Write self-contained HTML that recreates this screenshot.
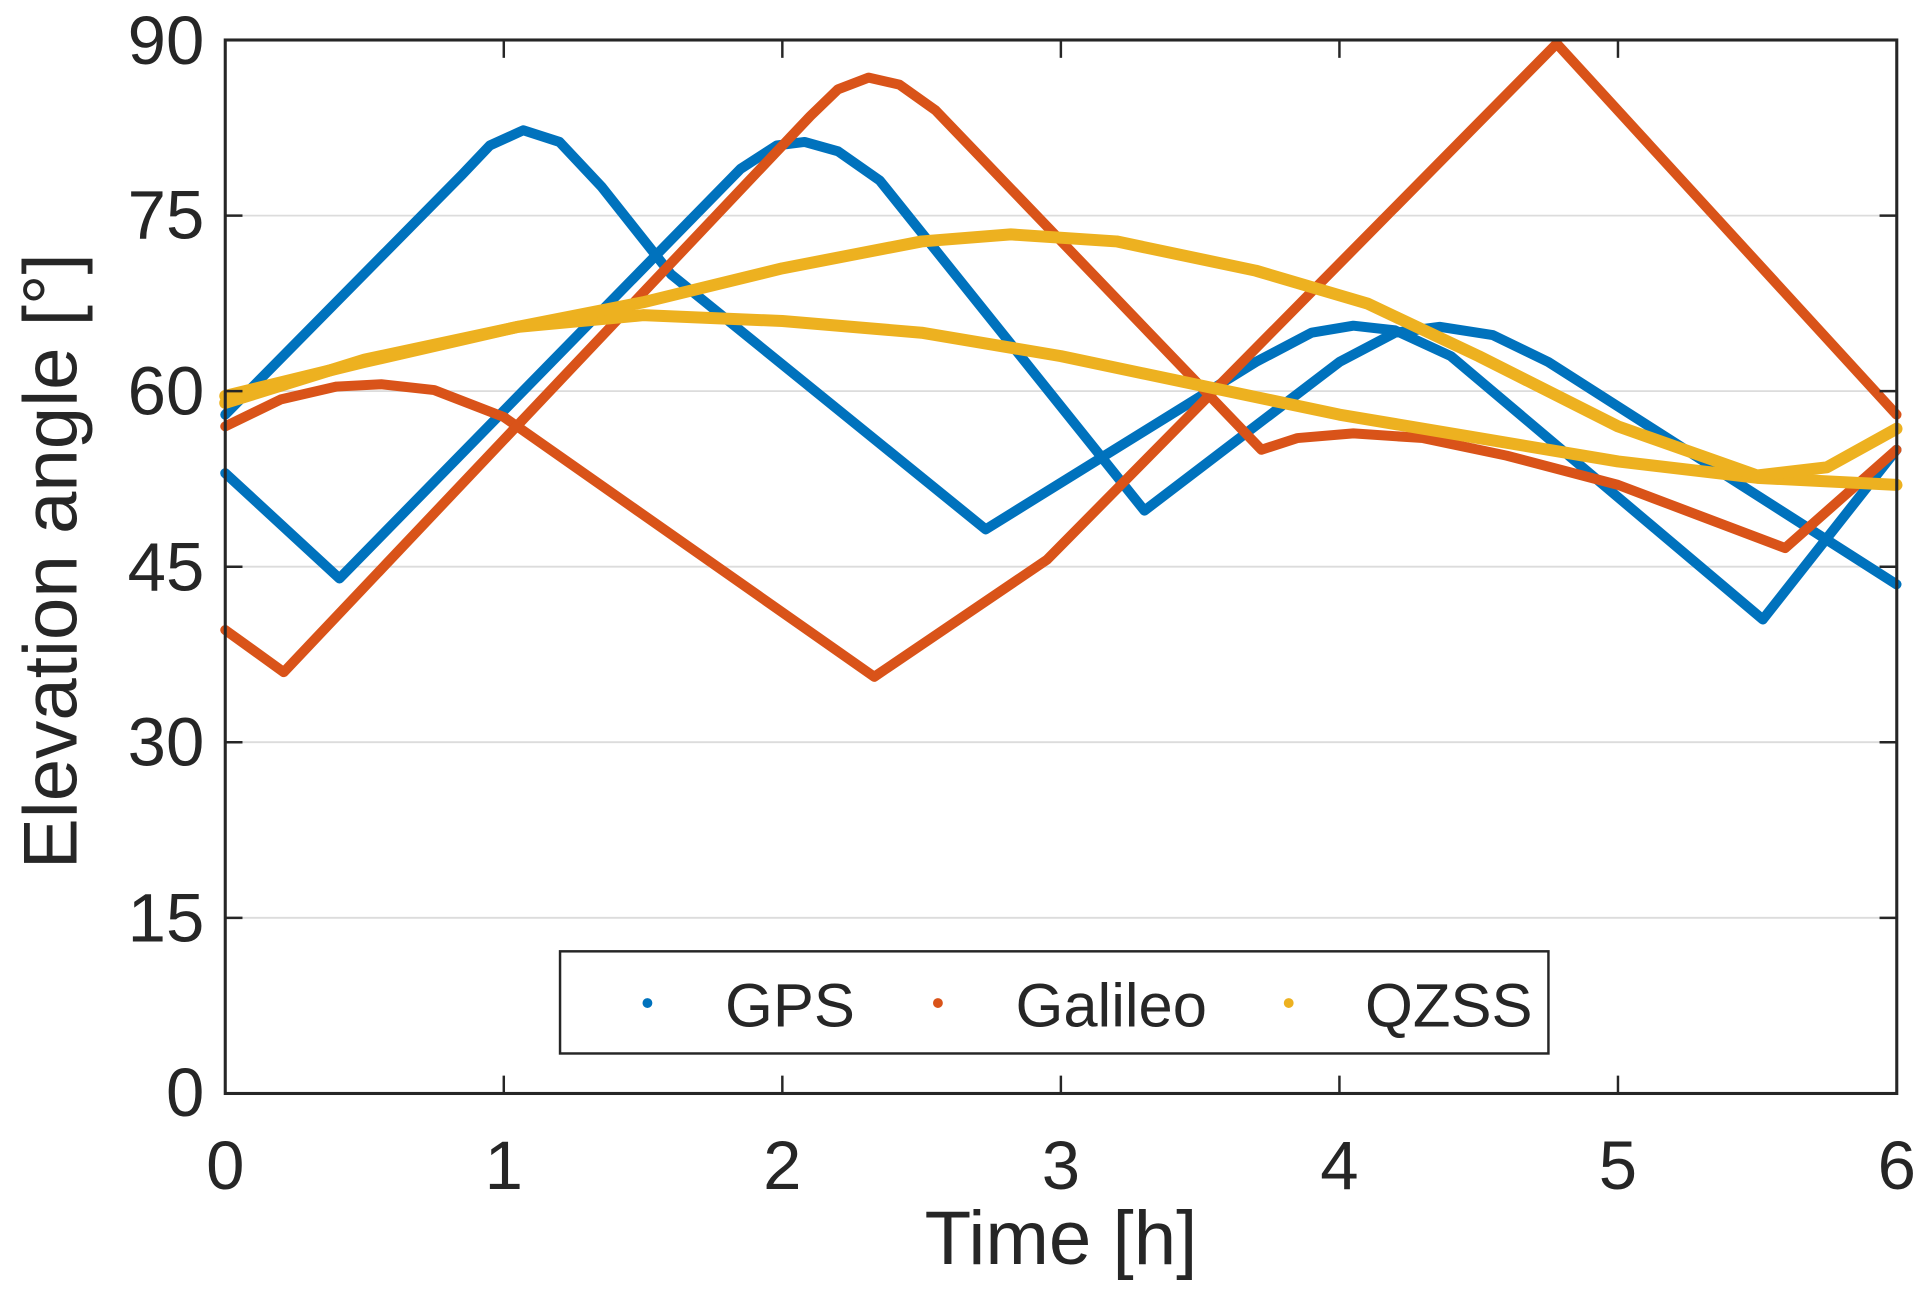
<!DOCTYPE html>
<html><head><meta charset="utf-8"><style>
html,body{margin:0;padding:0;background:#fff;}
svg{display:block;}
text{font-family:"Liberation Sans",sans-serif;fill:#262626;}
</style></head><body>
<svg width="1930" height="1291" viewBox="0 0 1568 1049" preserveAspectRatio="none">
<rect width="1568" height="1049" fill="#fff"/>
<g stroke="#dcdcdc" stroke-width="1.5">
<line x1="183" x2="1541" y1="745.8" y2="745.8"/>
<line x1="183" x2="1541" y1="603.1" y2="603.1"/>
<line x1="183" x2="1541" y1="460.5" y2="460.5"/>
<line x1="183" x2="1541" y1="317.8" y2="317.8"/>
<line x1="183" x2="1541" y1="175.2" y2="175.2"/>
</g>
<g transform="translate(183,888.5) scale(226.3,-9.51)" fill="none" stroke-linejoin="round" stroke-linecap="round">
<polyline vector-effect="non-scaling-stroke" stroke="#0072bd" stroke-width="10" points="0,58 0.85,78.5 0.95,81 1.07,82.3 1.2,81.3 1.35,77.5 1.6,70 2.73,48.2 3.7,62.5 3.9,65 4.05,65.6 4.2,65.2 4.4,63 5.52,40.5 6,55"/>
<polyline vector-effect="non-scaling-stroke" stroke="#0072bd" stroke-width="10" points="0,53 0.41,44 1.85,79 1.98,81 2.08,81.3 2.2,80.5 2.35,78 3.3,49.8 4.0,62.5 4.2,65 4.36,65.5 4.55,64.8 4.75,62.5 6,43.5"/>
<polyline vector-effect="non-scaling-stroke" stroke="#d95319" stroke-width="10" points="0,57 0.2,59.3 0.4,60.4 0.56,60.6 0.75,60.1 1.0,57.8 2.33,35.6 2.95,45.6 4.78,89.7 6,58"/>
<polyline vector-effect="non-scaling-stroke" stroke="#d95319" stroke-width="10" points="0,39.6 0.21,36 2.1,83.5 2.2,85.8 2.31,86.8 2.42,86.2 2.55,84 3.72,55 3.85,56 4.05,56.4 4.3,56 4.6,54.5 5.0,52 5.6,46.6 6,55"/>
<polyline vector-effect="non-scaling-stroke" stroke="#edb120" stroke-width="12" points="0,59.6 0.5,62.5 1.05,65.5 1.5,66.5 2.0,66 2.5,65 3.0,63 3.5,60.5 4.0,58 4.5,56 5.0,54 5.5,52.6 6,52"/>
<polyline vector-effect="non-scaling-stroke" stroke="#edb120" stroke-width="12" points="0,59 0.5,62.7 1.05,65.5 1.5,67.6 2.0,70.5 2.5,72.8 2.82,73.4 3.2,72.8 3.7,70.3 4.1,67.5 4.5,63 5.0,57 5.5,52.8 5.75,53.5 6,56.8"/>
</g>
<rect x="183" y="32.5" width="1358" height="856" fill="none" stroke="#262626" stroke-width="2.5"/>
<g stroke="#262626" stroke-width="2">
<line x1="409.3" x2="409.3" y1="888.5" y2="874"/><line x1="409.3" x2="409.3" y1="32.5" y2="47"/>
<line x1="635.6" x2="635.6" y1="888.5" y2="874"/><line x1="635.6" x2="635.6" y1="32.5" y2="47"/>
<line x1="861.9" x2="861.9" y1="888.5" y2="874"/><line x1="861.9" x2="861.9" y1="32.5" y2="47"/>
<line x1="1088.2" x2="1088.2" y1="888.5" y2="874"/><line x1="1088.2" x2="1088.2" y1="32.5" y2="47"/>
<line x1="1314.5" x2="1314.5" y1="888.5" y2="874"/><line x1="1314.5" x2="1314.5" y1="32.5" y2="47"/>
<line x1="183" x2="197" y1="745.8" y2="745.8"/><line x1="1541" x2="1527" y1="745.8" y2="745.8"/>
<line x1="183" x2="197" y1="603.1" y2="603.1"/><line x1="1541" x2="1527" y1="603.1" y2="603.1"/>
<line x1="183" x2="197" y1="460.5" y2="460.5"/><line x1="1541" x2="1527" y1="460.5" y2="460.5"/>
<line x1="183" x2="197" y1="317.8" y2="317.8"/><line x1="1541" x2="1527" y1="317.8" y2="317.8"/>
<line x1="183" x2="197" y1="175.2" y2="175.2"/><line x1="1541" x2="1527" y1="175.2" y2="175.2"/>
</g>
<g font-size="56" text-anchor="end">
<text x="166" y="907">0</text>
<text x="166" y="765">15</text>
<text x="166" y="622">30</text>
<text x="166" y="480">45</text>
<text x="166" y="337">60</text>
<text x="166" y="194">75</text>
<text x="166" y="52">90</text>
</g>
<g font-size="56" text-anchor="middle">
<text x="183" y="966">0</text>
<text x="409.3" y="966">1</text>
<text x="635.6" y="966">2</text>
<text x="861.9" y="966">3</text>
<text x="1088.2" y="966">4</text>
<text x="1314.5" y="966">5</text>
<text x="1541" y="966">6</text>
<text x="862" y="1027" font-size="62">Time [h]</text>
<text transform="translate(62,456) rotate(-90)" font-size="62">Elevation angle [°]</text>
</g>
<rect x="455" y="773" width="803" height="83" fill="#fff" stroke="#262626" stroke-width="2"/>
<circle cx="526" cy="815" r="4" fill="#0072bd"/>
<circle cx="762" cy="815" r="4" fill="#d95319"/>
<circle cx="1047" cy="815" r="4" fill="#edb120"/>
<g font-size="50">
<text x="589" y="834">GPS</text>
<text x="825" y="834">Galileo</text>
<text x="1109" y="834">QZSS</text>
</g>
</svg>
</body></html>
